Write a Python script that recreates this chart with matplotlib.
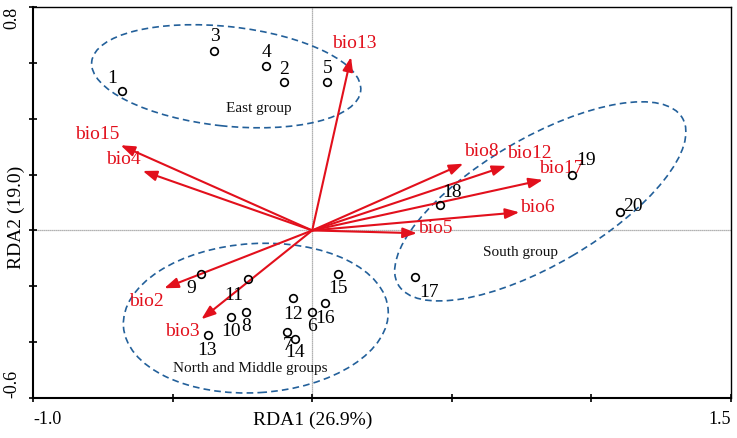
import matplotlib
matplotlib.use("Agg")
import matplotlib.pyplot as plt
from matplotlib.patches import Ellipse

# Site scores (RDA1, RDA2)
site_ids = [str(i) for i in range(1, 21)]
site_x = [-0.683, -0.101, -0.350, -0.165, 0.054, 0.000, -0.089, -0.237, -0.399, -0.291,
          -0.230, -0.068, -0.375, -0.060, 0.093, 0.047, 0.369, 0.456, 0.932, 1.104]
site_y = [0.498, 0.530, 0.643, 0.587, 0.533, -0.291, -0.362, -0.291, -0.155, -0.309,
          -0.175, -0.243, -0.376, -0.387, -0.155, -0.261, -0.167, 0.090, 0.200, 0.067]

# Environmental variables (biplot arrows)
env_names = ["bio2", "bio3", "bio4", "bio5", "bio6", "bio8", "bio12", "bio13", "bio15", "bio17"]
env_x = [-0.530, -0.397, -0.607, 0.375, 0.742, 0.541, 0.695, 0.139, -0.686, 0.826]
env_y = [-0.207, -0.318, 0.213, -0.010, 0.065, 0.239, 0.231, 0.621, 0.305, 0.181]

# Groups: name, centre x, centre y, width, height, angle
group_names = ["East group", "South group", "North and Middle groups"]
group_cx = [-0.308, 0.817, -0.202]
group_cy = [0.552, 0.104, -0.314]
group_w = [0.969, 1.18, 0.950]
group_h = [0.356, 0.452, 0.534]
group_angle = [-6.2, 30.4, 3.5]

xtick_values = [-1.0, -0.5, 0.0, 0.5, 1.0, 1.5]
ytick_values = [-0.6, -0.4, -0.2, 0.0, 0.2, 0.4, 0.6, 0.8]

# label offsets in pixels (right, up)
site_offsets = {"1": (-9, 13), "2": (0, 13), "3": (0, 14), "4": (0, 14), "5": (0, 13),
                "6": (0, -15), "7": (0, -14), "8": (0, -15), "9": (-10, -15), "10": (0, -15),
                "11": (-14, -16), "12": (0, -16), "13": (0, -15), "14": (0, -14), "15": (0, -15),
                "16": (0, -15), "17": (14, -15), "18": (13, 13), "19": (14, 14), "20": (13, 5)}
env_offsets = {"bio2": (-18, -13), "bio3": (-19, -12), "bio4": (-19, 11), "bio5": (18, 5),
               "bio6": (18, 5), "bio8": (18, 12), "bio12": (23, 12), "bio13": (3, 13),
               "bio15": (-23, 11), "bio17": (18, 11)}
group_text_pos = {"East group": (-0.192, 0.436), "South group": (0.746, -0.078),
                  "North and Middle groups": (-0.222, -0.494)}

serif = ["Liberation Serif", "DejaVu Serif"]
plt.rcParams["font.family"] = serif
red = "#e2101c"
blue = "#23609a"

fig = plt.figure(figsize=(7.37, 4.38), dpi=100)
ax = fig.add_axes([33 / 737, 1 - 398 / 438, 698 / 737, 391 / 438])
ax.set_xlim(-1.0, 1.5)
ax.set_ylim(-0.6, 0.8)

# zero lines
ax.axhline(0, color="#999999", lw=0.9, ls=(0, (1, 0.6)), zorder=1)
ax.axvline(0, color="#999999", lw=0.9, ls=(0, (1, 0.6)), zorder=1)

# group ellipses
for i, name in enumerate(group_names):
    e = Ellipse((group_cx[i], group_cy[i]), group_w[i], group_h[i], angle=group_angle[i],
                fill=False, edgecolor=blue, lw=1.2, ls=(0, (4, 2.5)), zorder=2)
    ax.add_patch(e)
    tx, ty = group_text_pos[name]
    ax.text(tx, ty, name, fontsize=11, ha="center", va="center", color="#111111")

# arrows
for name, x, y in zip(env_names, env_x, env_y):
    ax.annotate("", xy=(x, y), xytext=(0, 0),
                arrowprops=dict(arrowstyle="-|>,head_length=0.6,head_width=0.22",
                                color=red, lw=1.5, mutation_scale=14,
                                shrinkA=0, shrinkB=0), zorder=3)
    ax.annotate(name, xy=(x, y), xytext=env_offsets[name], textcoords="offset pixels",
                ha="center", va="center", fontsize=14, color=red, zorder=4)

# sites
ax.plot(site_x, site_y, "o", ms=5.5, mfc="none", mec="black", mew=1.2, zorder=5)
for sid, x, y in zip(site_ids, site_x, site_y):
    ax.annotate(sid, xy=(x, y), xytext=site_offsets[sid], textcoords="offset pixels",
                ha="center", va="center", fontsize=14, color="black", zorder=6)

# axes styling
for side in ["top", "right"]:
    ax.spines[side].set_linewidth(1.0)
for side in ["bottom", "left"]:
    ax.spines[side].set_linewidth(1.5)
ax.tick_params(direction="inout", length=6, width=1.2, labelsize=13, pad=6)
ax.set_xticks(xtick_values)
ax.set_xticklabels(["-1.0", "", "", "", "", "1.5"])
ax.set_yticks(ytick_values)
ax.set_yticklabels(["-0.6", "", "", "", "", "", "", "0.8"], rotation=90)
xl = ax.get_xticklabels()
xl[0].set_ha("left")
xl[-1].set_ha("right")
yl = ax.get_yticklabels()
for t in yl:
    t.set_ha("right")
yl[0].set_va("bottom")
yl[-1].set_va("top")

ax.set_xlabel("RDA1 (26.9%)", fontsize=14)
ax.xaxis.set_label_coords(0.4, -0.035)
ax.set_ylabel("RDA2 (19.0)", fontsize=14)
ax.yaxis.set_label_coords(-0.012, 0.463)

fig.savefig("out.png", dpi=100)
